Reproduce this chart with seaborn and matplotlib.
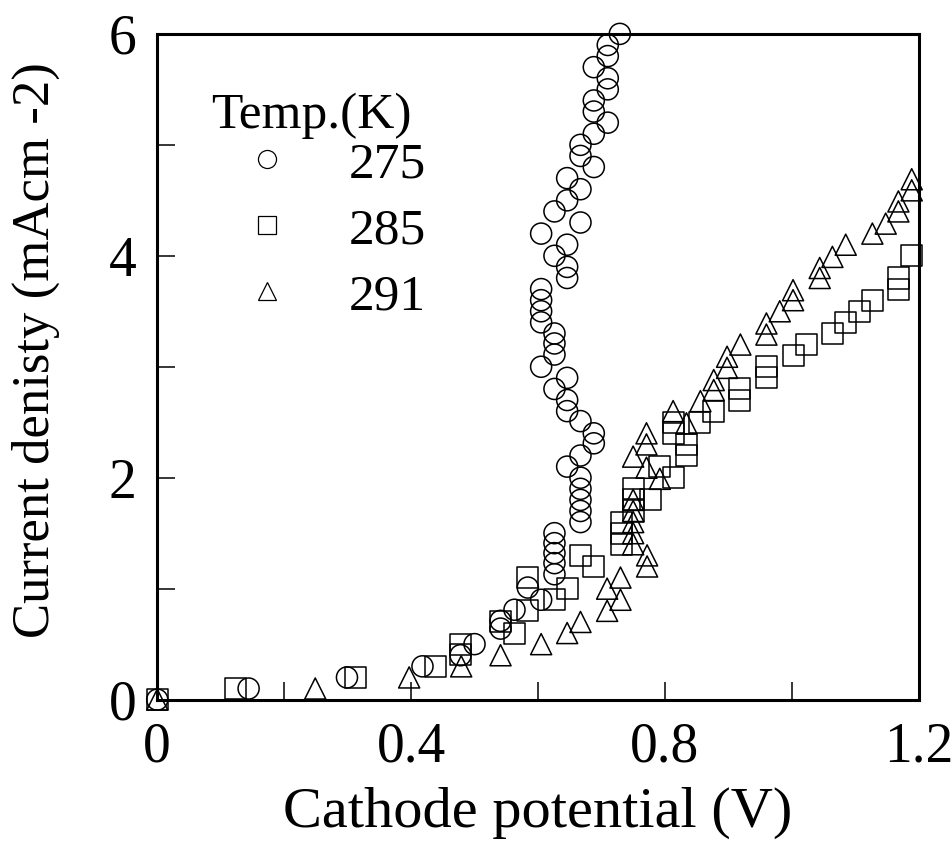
import matplotlib
matplotlib.use("Agg")
import matplotlib.pyplot as plt
from matplotlib.lines import Line2D
import seaborn as sns
import pandas as pd

# ---- data ----
x275 = [0, 0.144, 0.299, 0.418, 0.478, 0.500, 0.541, 0.541, 0.563, 0.605, 0.584,
        0.626, 0.626, 0.626, 0.626, 0.626, 0.667, 0.667, 0.667, 0.667, 0.667,
        0.646, 0.667, 0.688, 0.688, 0.667, 0.646, 0.646, 0.626, 0.646, 0.605,
        0.626, 0.626, 0.626, 0.605, 0.605, 0.605, 0.605, 0.646, 0.646, 0.626,
        0.646, 0.605, 0.667, 0.626, 0.646, 0.667, 0.646, 0.688, 0.667, 0.667,
        0.688, 0.710, 0.688, 0.688, 0.710, 0.710, 0.688, 0.710, 0.710, 0.729]
y275 = [0, 0.10, 0.20, 0.30, 0.40, 0.50, 0.64, 0.71, 0.81, 0.90, 1.01,
        1.13, 1.23, 1.32, 1.41, 1.50, 1.60, 1.70, 1.80, 1.90, 2.00,
        2.10, 2.20, 2.31, 2.40, 2.51, 2.60, 2.70, 2.80, 2.90, 3.00,
        3.11, 3.21, 3.30, 3.40, 3.50, 3.60, 3.70, 3.80, 3.90, 4.00,
        4.10, 4.20, 4.30, 4.40, 4.50, 4.60, 4.70, 4.80, 4.90, 5.00,
        5.10, 5.20, 5.30, 5.40, 5.50, 5.60, 5.70, 5.80, 5.90, 6.00]

x285 = [0, 0.123, 0.312, 0.439, 0.478, 0.478, 0.541, 0.563, 0.584, 0.584, 0.626,
        0.646, 0.667, 0.688, 0.731, 0.731, 0.731, 0.751, 0.751, 0.751, 0.777,
        0.792, 0.813, 0.813, 0.813, 0.834, 0.834, 0.855, 0.877, 0.918, 0.918,
        0.960, 0.960, 1.002, 1.023, 1.064, 1.085, 1.106, 1.127, 1.168, 1.168, 1.189]
y285 = [0, 0.10, 0.20, 0.30, 0.41, 0.50, 0.70, 0.60, 0.80, 1.10, 0.90,
        1.00, 1.30, 1.20, 1.40, 1.50, 1.60, 1.70, 1.80, 1.90, 1.80,
        2.10, 2.00, 2.40, 2.50, 2.20, 2.30, 2.50, 2.60, 2.70, 2.80,
        2.90, 3.00, 3.10, 3.20, 3.30, 3.40, 3.50, 3.60, 3.70, 3.80, 4.00]

x291 = [0, 0.249, 0.397, 0.479, 0.541, 0.605, 0.646, 0.667, 0.709, 0.730, 0.709,
        0.730, 0.772, 0.772, 0.750, 0.750, 0.750, 0.750, 0.750, 0.750, 0.771,
        0.771, 0.771, 0.792, 0.813, 0.834, 0.856, 0.877, 0.877, 0.898, 0.898,
        0.919, 0.960, 0.960, 0.981, 1.002, 1.002, 1.044, 1.044, 1.064, 1.085,
        1.127, 1.148, 1.168, 1.168, 1.189, 1.189]
y291 = [0, 0.10, 0.20, 0.30, 0.40, 0.50, 0.60, 0.70, 0.80, 0.90, 1.00,
        1.10, 1.20, 1.30, 1.40, 1.50, 1.60, 1.70, 1.80, 2.19, 2.09,
        2.30, 2.40, 1.99, 2.60, 2.49, 2.69, 2.79, 2.88, 2.99, 3.09,
        3.20, 3.29, 3.39, 3.50, 3.60, 3.69, 3.80, 3.89, 3.99, 4.10,
        4.20, 4.29, 4.40, 4.49, 4.59, 4.69]

temps = ["275", "285", "291"]
legend_title = "Temp.(K)"
markers = ["o", "s", "^"]
xticks_major = [0, 0.4, 0.8, 1.2]
xtick_labels = ["0", "0.4", "0.8", "1.2"]
xticks_minor = [0.2, 0.6, 1.0]
yticks_major = [0, 2, 4, 6]
ytick_labels = ["0", "2", "4", "6"]
yticks_minor = [1, 3, 5]

df = pd.concat([
    pd.DataFrame({"x": x275, "y": y275, "T": temps[0]}),
    pd.DataFrame({"x": x285, "y": y285, "T": temps[1]}),
    pd.DataFrame({"x": x291, "y": y291, "T": temps[2]}),
])

sns.set_style("ticks")
plt.rcParams["font.family"] = ["Liberation Serif", "DejaVu Serif"]
plt.rcParams["text.color"] = "black"
plt.rcParams["axes.labelcolor"] = "black"
plt.rcParams["xtick.color"] = "black"
plt.rcParams["ytick.color"] = "black"

fig = plt.figure(figsize=(9.53, 8.47), dpi=100)
ax = fig.add_axes([0.165, 0.174, 0.799, 0.786])

for t, m in zip(temps, markers):
    sub = df[df["T"] == t]
    sns.scatterplot(data=sub, x="x", y="y", marker=m, s=230,
                    facecolor="none", edgecolor="black", linewidth=1.1,
                    ax=ax, legend=False, clip_on=False, zorder=3)

ax.set_xlim(0, 1.2)
ax.set_ylim(0, 6)
ax.set_xticks(xticks_major)
ax.set_xticklabels(xtick_labels)
ax.set_xticks(xticks_minor, minor=True)
ax.set_yticks(yticks_major)
ax.set_yticklabels(ytick_labels)
ax.set_yticks(yticks_minor, minor=True)
ax.tick_params(which="both", direction="in", length=13, width=1.1, color="black",
               top=False, right=False)
ax.tick_params(axis="x", which="major", labelsize=40, pad=16, labelcolor="black")
ax.tick_params(axis="y", which="major", labelsize=40, pad=15, labelcolor="black")

for sp in ax.spines.values():
    sp.set_linewidth(2.2)
    sp.set_color("black")
    sp.set_visible(True)

ax.set_xlabel("Cathode potential (V)", fontsize=42, color="black")
ax.set_ylabel("Current denisty (mAcm -2)", fontsize=38, color="black")
ax.xaxis.set_label_coords(0.5, -0.1306)
ax.yaxis.set_label_coords(-0.128, 0.525)

handles = [Line2D([], [], marker=m, linestyle="", markersize=13,
                  markerfacecolor="none", markeredgecolor="black",
                  markeredgewidth=0.9) for m in markers]
leg = ax.legend(handles, temps, loc="upper left",
                bbox_to_anchor=(0.073, 0.839), frameon=False, fontsize=37,
                handlelength=2.1, handletextpad=0.55,
                labelspacing=0.37, borderaxespad=0, borderpad=0)
ax.text(0.071, 0.859, legend_title, transform=ax.transAxes, fontsize=37,
        ha="left", va="baseline", color="black")

fig.savefig("out.png", dpi=100)
